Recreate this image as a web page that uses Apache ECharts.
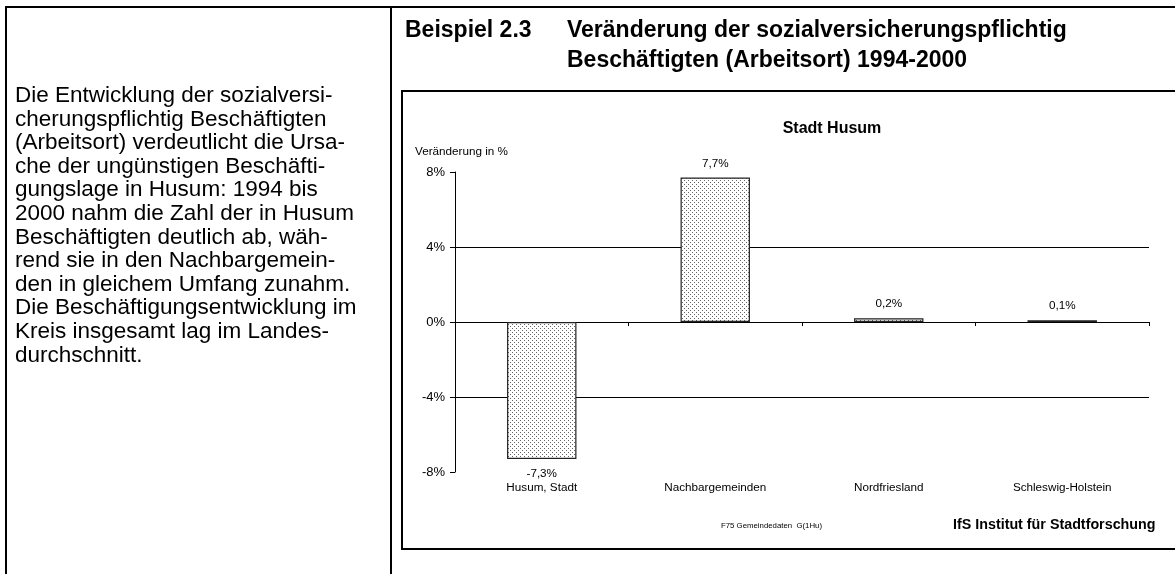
<!DOCTYPE html>
<html>
<head>
<meta charset="utf-8">
<script src="https://cdn.jsdelivr.net/npm/echarts@6/dist/echarts.min.js"></script>
<style>
html,body{margin:0;padding:0;background:#fff;}
#chart{width:1175px;height:574px;}
</style>
</head>
<body>
<div id="chart"></div>
<script>
// ---- data ----
const categories = ['Husum, Stadt', 'Nachbargemeinden', 'Nordfriesland', 'Schleswig-Holstein'];
const changes = [-7.3, 7.7, 0.2, 0.1];
const yTicks = [-8, -4, 0, 4, 8];
const chartTitle = 'Stadt Husum';
const axisName = 'Veränderung in %';
const headerLine1a = 'Beispiel 2.3';
const headerLine1b = 'Veränderung der sozialversicherungspflichtig';
const headerLine2 = 'Beschäftigten (Arbeitsort) 1994-2000';
const sourceNote = 'F75 Gemeindedaten  G(1Hu)';
const institute = 'IfS Institut für Stadtforschung';
const paragraph = [
  'Die Entwicklung der sozialversi-',
  'cherungspflichtig Beschäftigten',
  '(Arbeitsort) verdeutlicht die Ursa-',
  'che der ungünstigen Beschäfti-',
  'gungslage in Husum: 1994 bis',
  '2000 nahm die Zahl der in Husum',
  'Beschäftigten deutlich ab, wäh-',
  'rend sie in den Nachbargemein-',
  'den in gleichem Umfang zunahm.',
  'Die Beschäftigungsentwicklung im',
  'Kreis insgesamt lag im Landes-',
  'durchschnitt.'
];

// dotted fill pattern
const pat = document.createElement('canvas');
pat.width = 4; pat.height = 4;
const pc = pat.getContext('2d');
pc.fillStyle = '#ffffff'; pc.fillRect(0, 0, 4, 4);
pc.fillStyle = '#666666';
pc.fillRect(0, 0, 1, 1);
pc.fillRect(2, 2, 1, 1);

const fmt = v => v.toFixed(1).replace('.', ',') + '%';

const FONT = 'Liberation Sans, Arial, sans-serif';
const chart = echarts.init(document.getElementById('chart'), null, {renderer: 'canvas'});

const seriesData = changes.map(v => ({
  value: v,
  label: {position: v < 0 ? 'bottom' : 'top', distance: v < 0 ? 9 : 8}
}));

chart.setOption({
  animation: false,
  backgroundColor: '#fff',
  textStyle: {fontFamily: FONT},
  title: {
    text: chartTitle,
    left: 827, top: 116,
    textAlign: 'center',
    textStyle: {fontSize: 16, fontWeight: 'bold', color: '#000', fontFamily: FONT}
  },
  grid: {left: 455, right: 26, top: 172, bottom: 102},
  xAxis: [
    {
      type: 'category', data: categories, position: 'bottom',
      axisLine: {show: false, onZero: false}, axisTick: {show: false},
      axisLabel: {color: '#000', fontSize: 11.7, margin: 10, fontFamily: FONT}
    },
    {
      type: 'category', data: categories, position: 'top',
      axisLine: {show: true, onZero: true, lineStyle: {color: '#000', width: 1}},
      axisTick: {show: true, inside: true, length: 4, lineStyle: {color: '#000'}},
      axisLabel: {show: false}
    }
  ],
  yAxis: {
    type: 'value', min: -8, max: 8, interval: 4,
    name: axisName, nameLocation: 'end', nameGap: 14,
    nameTextStyle: {color: '#000', fontSize: 11.7, align: 'left', padding: [0, 0, 0, -40], fontFamily: FONT},
    axisLine: {show: true, lineStyle: {color: '#000', width: 1}},
    axisTick: {show: true, length: 5, lineStyle: {color: '#000'}},
    axisLabel: {color: '#000', fontSize: 13, margin: 10, fontFamily: FONT,
      formatter: v => yTicks.includes(v) ? v + '%' : ''},
    splitLine: {show: true, showMinLine: false, showMaxLine: false, lineStyle: {color: '#000', width: 1}}
  },
  series: [{
    type: 'bar', xAxisIndex: 0, data: seriesData,
    barWidth: '40%',
    itemStyle: {color: {image: pat, repeat: 'repeat'}, borderColor: '#222', borderWidth: 1.2},
    label: {show: true, color: '#000', fontSize: 11.7, fontFamily: FONT,
      formatter: p => fmt(p.value)}
  }],
  graphic: [
    // outer frame
    {type: 'line', shape: {x1: 5, y1: 7, x2: 1175, y2: 7}, style: {stroke: '#000', lineWidth: 2}, silent: true},
    {type: 'line', shape: {x1: 6, y1: 6, x2: 6, y2: 574}, style: {stroke: '#000', lineWidth: 2}, silent: true},
    {type: 'line', shape: {x1: 391, y1: 6, x2: 391, y2: 574}, style: {stroke: '#000', lineWidth: 2}, silent: true},
    // chart box
    {type: 'polyline', shape: {points: [[1180, 91], [402, 91], [402, 549], [1180, 549]]}, style: {stroke: '#000', lineWidth: 2, fill: null}, silent: true},
    // header
    {type: 'text', x: 405, y: 31, style: {text: headerLine1a, fontSize: 23, fontWeight: 'bold', fontFamily: FONT, fill: '#000', verticalAlign: 'middle'}},
    {type: 'text', x: 567, y: 31, style: {text: headerLine1b, fontSize: 23, fontWeight: 'bold', fontFamily: FONT, fill: '#000', verticalAlign: 'middle'}},
    {type: 'text', x: 567, y: 61, style: {text: headerLine2, fontSize: 23, fontWeight: 'bold', fontFamily: FONT, fill: '#000', verticalAlign: 'middle'}},
    // footer
    {type: 'text', x: 721, y: 526, style: {text: sourceNote, fontSize: 7.8, fontFamily: FONT, fill: '#000', verticalAlign: 'middle'}},
    {type: 'text', x: 953, y: 525, style: {text: institute, fontSize: 14.3, fontWeight: 'bold', fontFamily: FONT, fill: '#000', verticalAlign: 'middle'}},
    // paragraph
    {type: 'text', x: 15, y: 84, style: {text: paragraph.join('\n'), fontSize: 22.5, lineHeight: 23.6, fontFamily: FONT, fill: '#000', verticalAlign: 'top'}}
  ]
});
</script>
</body>
</html>
